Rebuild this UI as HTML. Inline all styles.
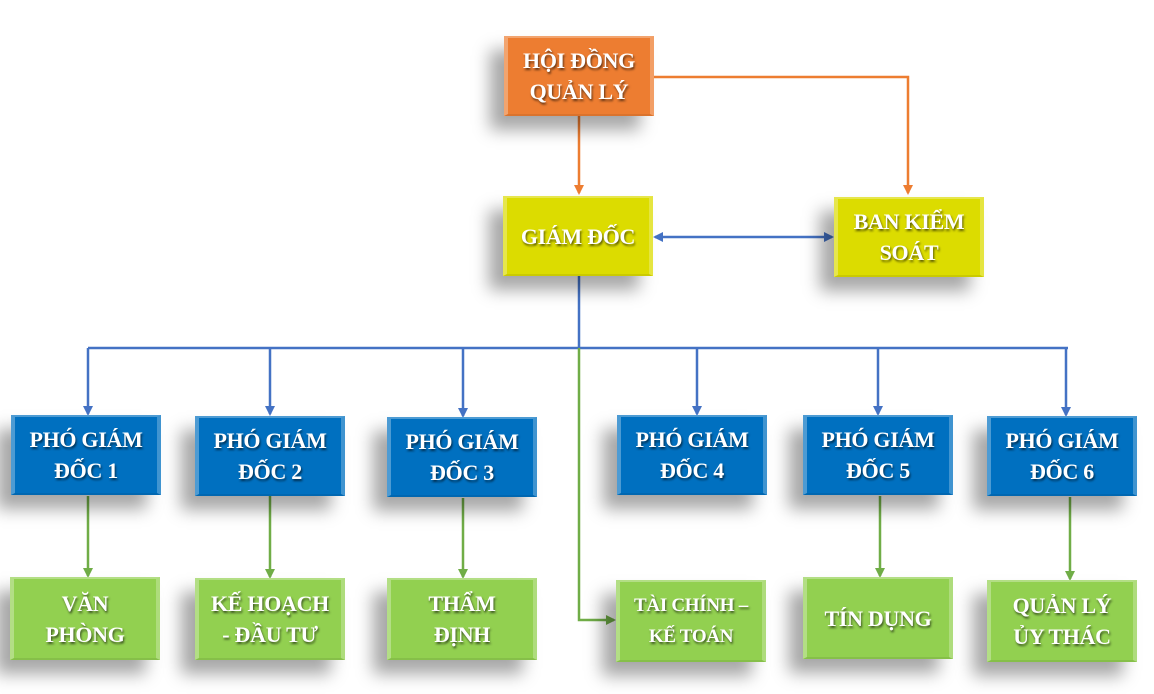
<!DOCTYPE html>
<html><head><meta charset="utf-8"><style>
body{margin:0;width:1154px;height:694px;background:#fff;position:relative;overflow:hidden;font-family:"Liberation Serif","DejaVu Serif",serif}
.b{position:absolute;width:150px;height:80px;box-sizing:border-box;display:flex;align-items:center;justify-content:center;text-align:center;color:#fff;font-weight:bold;font-size:22px;line-height:31px;letter-spacing:-0.3px;text-shadow:1px 2px 2px rgba(0,0,0,.6);box-shadow:-14px 14px 16px rgba(0,0,0,.35);border-left:4px solid rgba(255,255,255,.3);border-right:4px solid rgba(255,255,255,.25);border-top:2px solid rgba(255,255,255,.3);border-bottom:2px solid rgba(0,0,0,.08)}
.o{background:#ED7D31}.y{background:#DCDC00}.bl{background:#0070C0}.g{background:#92D050}
svg{position:absolute;left:0;top:0}
</style></head><body>
<svg width="1154" height="694">
<defs>
<marker id="ao" markerWidth="10" markerHeight="10" refX="8" refY="5" orient="auto" markerUnits="userSpaceOnUse"><path d="M0,0 L10,5 L0,10z" fill="#ED7D31"/></marker>
<marker id="ab" markerWidth="10" markerHeight="10" refX="8" refY="5" orient="auto-start-reverse" markerUnits="userSpaceOnUse"><path d="M0,0 L10,5 L0,10z" fill="#4472C4"/></marker>
<marker id="ag" markerWidth="10" markerHeight="10" refX="8" refY="5" orient="auto" markerUnits="userSpaceOnUse"><path d="M0,0 L10,5 L0,10z" fill="#70AD47"/></marker>
</defs>
<g fill="none" stroke-width="2.5">
<path d="M579 116 V193" stroke="#ED7D31" marker-end="url(#ao)"/>
<path d="M654 77 H908 V193" stroke="#ED7D31" marker-end="url(#ao)"/>
<path d="M655 237 H832" stroke="#4472C4" marker-start="url(#ab)" marker-end="url(#ab)"/>
<path d="M579 276 V348 M88 348 H1068" stroke="#4472C4"/>
<path d="M88 348 V414" stroke="#4472C4" marker-end="url(#ab)"/>
<path d="M270 348 V414" stroke="#4472C4" marker-end="url(#ab)"/>
<path d="M463 348 V416" stroke="#4472C4" marker-end="url(#ab)"/>
<path d="M697 348 V414" stroke="#4472C4" marker-end="url(#ab)"/>
<path d="M878 348 V414" stroke="#4472C4" marker-end="url(#ab)"/>
<path d="M1066 348 V415" stroke="#4472C4" marker-end="url(#ab)"/>
<path d="M579 348 V620 H614" stroke="#70AD47" marker-end="url(#ag)"/>
<path d="M88 496 V576" stroke="#70AD47" marker-end="url(#ag)"/>
<path d="M270 496 V577" stroke="#70AD47" marker-end="url(#ag)"/>
<path d="M463 498 V577" stroke="#70AD47" marker-end="url(#ag)"/>
<path d="M880 496 V576" stroke="#70AD47" marker-end="url(#ag)"/>
<path d="M1070 497 V579" stroke="#70AD47" marker-end="url(#ag)"/>
</g>
</svg>
<div class="b o" style="left:504px;top:36px">HỘI ĐỒNG<br>QUẢN LÝ</div>
<div class="b y" style="left:503px;top:196px">GIÁM ĐỐC</div>
<div class="b y" style="left:834px;top:197px">BAN KIỂM<br>SOÁT</div>
<div class="b bl" style="left:11px;top:415px">PHÓ GIÁM<br>ĐỐC 1</div>
<div class="b bl" style="left:195px;top:416px">PHÓ GIÁM<br>ĐỐC 2</div>
<div class="b bl" style="left:387px;top:417px">PHÓ GIÁM<br>ĐỐC 3</div>
<div class="b bl" style="left:617px;top:415px">PHÓ GIÁM<br>ĐỐC 4</div>
<div class="b bl" style="left:803px;top:415px">PHÓ GIÁM<br>ĐỐC 5</div>
<div class="b bl" style="left:987px;top:416px">PHÓ GIÁM<br>ĐỐC 6</div>
<div class="b g" style="left:10px;top:577px;height:83px">VĂN<br>PHÒNG</div>
<div class="b g" style="left:195px;top:578px;height:82px">KẾ HOẠCH<br>- ĐẦU TƯ</div>
<div class="b g" style="left:387px;top:578px;height:82px">THẨM<br>ĐỊNH</div>
<div class="b g" style="left:616px;top:580px;height:82px;font-size:19px">TÀI CHÍNH –<br>KẾ TOÁN</div>
<div class="b g" style="left:803px;top:577px;height:82px">TÍN DỤNG</div>
<div class="b g" style="left:987px;top:580px;height:82px">QUẢN LÝ<br>ỦY THÁC</div>
</body></html>
